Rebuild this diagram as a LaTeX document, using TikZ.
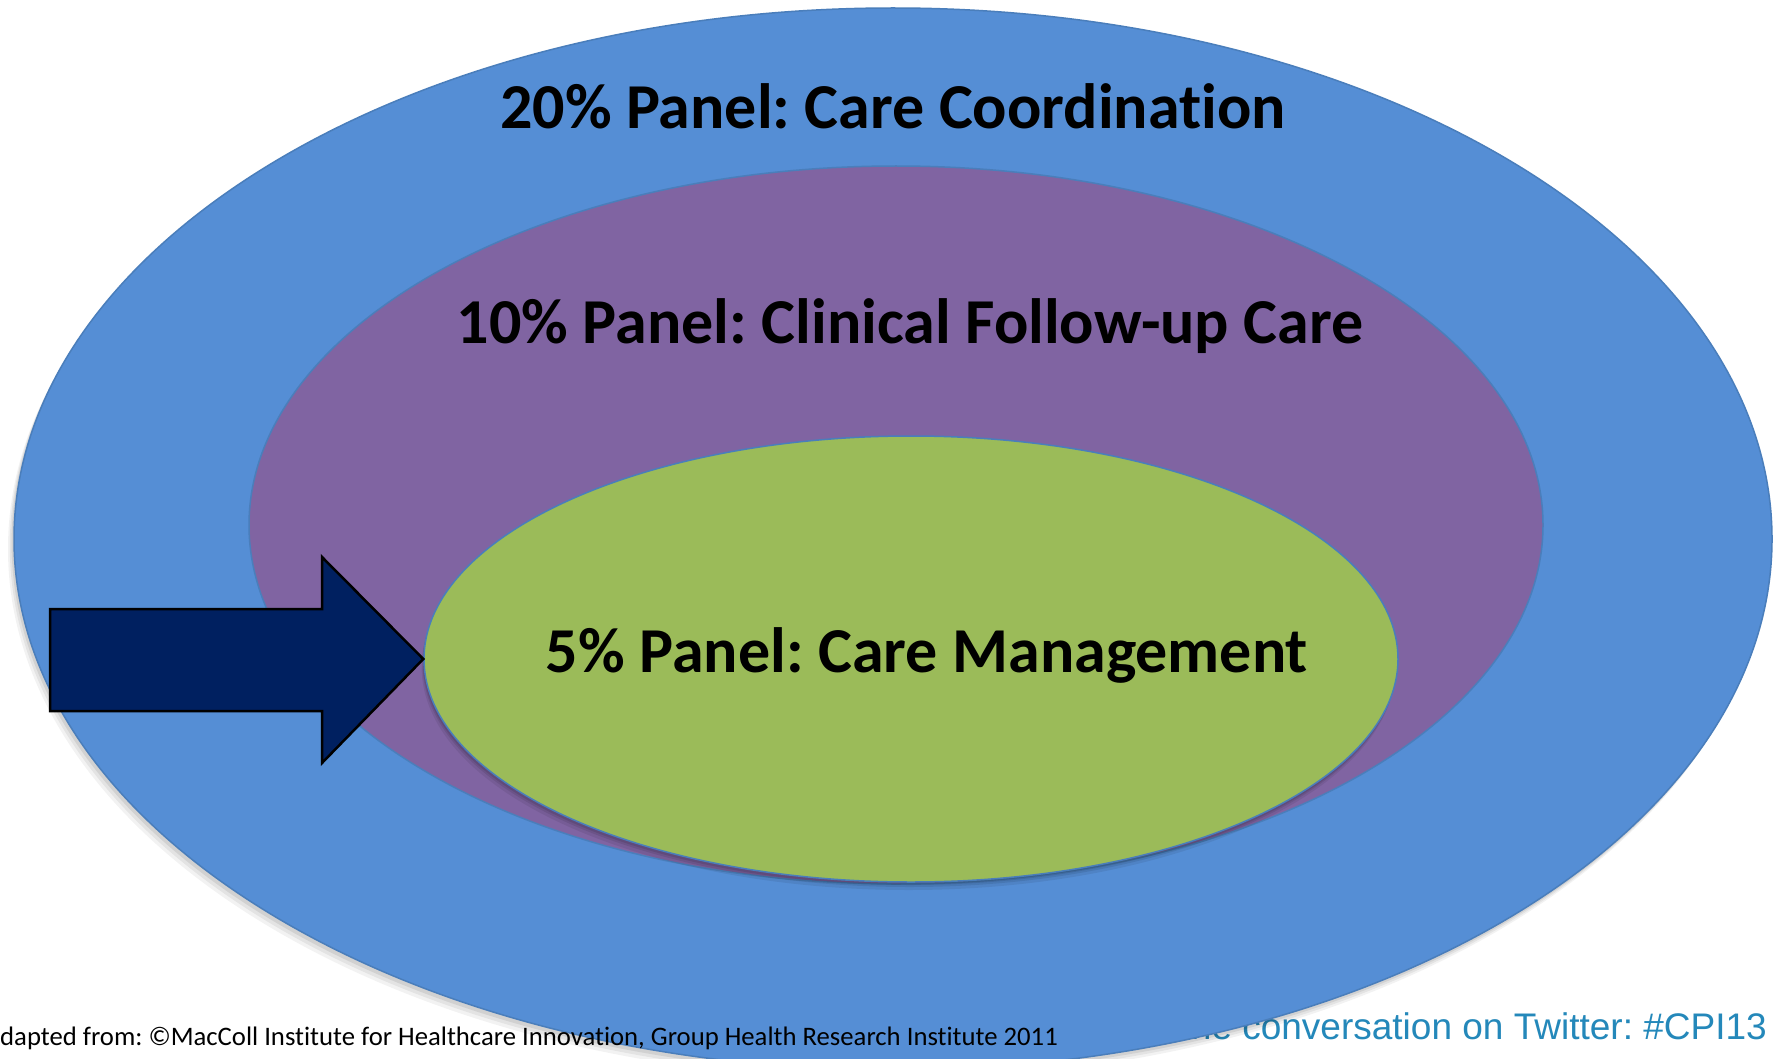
\documentclass[tikz,border=0pt]{standalone}
\usepackage{fontspec}
\setmainfont[Ligatures={NoCommon}]{Carlito}
\newfontfamily\arialfont{Liberation Sans}
\usetikzlibrary{shapes.geometric}
\definecolor{outerblue}{HTML}{558ED5}
\definecolor{ringline}{HTML}{4A7EBB}
\definecolor{midpurple}{HTML}{8064A2}
\definecolor{innergreen}{HTML}{9BBB59}
\definecolor{arrownavy}{HTML}{002060}
\definecolor{twitterblue}{RGB}{36,136,186}
\frenchspacing
\begin{document}
\begin{tikzpicture}[x=1pt,y=-1pt,
  ring/.style={ellipse, draw=ringline, line width=1.5pt, inner sep=0pt},
  titletext/.style={font=\bfseries\fontsize{64}{70}\selectfont, anchor=base, text=black, inner sep=0pt},
  credittext/.style={font=\fontsize{26.7}{32}\selectfont, anchor=base west, text=black, inner sep=0pt},
  tweettext/.style={font=\arialfont\fontsize{37}{42}\selectfont, anchor=base east, text=twitterblue, inner sep=0pt},
  bigarrow/.style={fill=arrownavy, draw=black, line width=2.5pt, line join=miter}]
\useasboundingbox (0,0) rectangle (1779,1059);
\clip (0,0) rectangle (1779,1059);
\fill[white] (0,0) rectangle (1779,1059);
% text partly hidden behind the outer ellipse
\node[tweettext] (tw) at (1767,1039) {he conversation on Twitter: \#CPI13};
% soft shadow of outer ellipse
\foreach \d/\o in {10/0.05,7/0.06,4/0.08}{
  \fill[black,opacity=\o] (893-\d*0.6,539+\d) ellipse [x radius=879pt, y radius=531pt];
}
\node[ring, fill=outerblue, minimum width=1758pt, minimum height=1062pt] (outer) at (893,539) {};
\node[ring, fill=midpurple, minimum width=1294pt, minimum height=718pt] (middle) at (896,525) {};
% shadow of inner ellipse
\foreach \d/\o in {8/0.07,5/0.09,3/0.1}{
  \fill[black,opacity=\o] (911-\d*0.3,659+\d) ellipse [x radius=487pt, y radius=223pt];
}
\node[ring, fill=innergreen, minimum width=974pt, minimum height=446pt] (inner) at (911,659) {};
\node[titletext] (t20) at (893,129) {20\% Panel: Care Coordination};
\node[titletext] (t10) at (910,343) {10\% Panel: Clinical Follow-up Care};
\node[titletext] (t5) at (927,672) {5\% Panel: Care Management};
\coordinate (tip) at (inner.west);
\draw[bigarrow] (50,609) -- (322,609) -- (322,557) -- (tip) -- (322,763) -- (322,711) -- (50,711) -- cycle;
\node[credittext] (credit) at (0,1045) {dapted from: ©MacColl Institute for Healthcare Innovation, Group Health Research Institute 2011};
\end{tikzpicture}
\end{document}
